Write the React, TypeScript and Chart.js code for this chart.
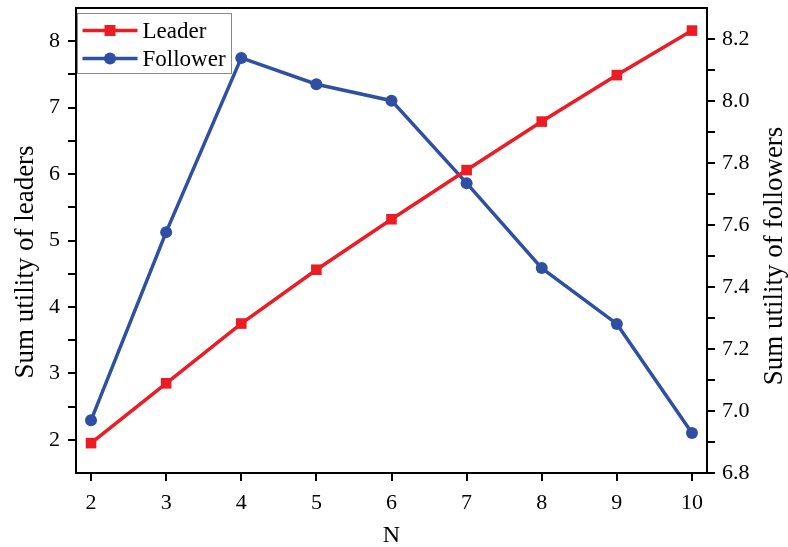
import React, { useEffect, useRef } from "react";
import { Chart, registerables } from "chart.js";

Chart.register(...registerables);

// Number of agents N on the x axis
const nValues = [2, 3, 4, 5, 6, 7, 8, 9, 10];
// Sum utility of leaders (left axis)
const leaderUtility = [1.95, 2.85, 3.75, 4.56, 5.32, 6.06, 6.79, 7.49, 8.16];
// Sum utility of followers (right axis)
const followerUtility = [6.97, 7.577, 8.139, 8.054, 8.001, 7.735, 7.461, 7.281, 6.929];

// Tick labels
const xTicks = [2, 3, 4, 5, 6, 7, 8, 9, 10];
const leftMajorTicks = [2, 3, 4, 5, 6, 7, 8];
const leftMinorTicks = [2.5, 3.5, 4.5, 5.5, 6.5, 7.5];
const rightMajorTicks = [6.8, 7.0, 7.2, 7.4, 7.6, 7.8, 8.0, 8.2];
const rightMinorTicks = [6.9, 7.1, 7.3, 7.5, 7.7, 7.9, 8.1];

// Axis titles
const xTitle = "N";
const leftTitle = "Sum utility of leaders";
const rightTitle = "Sum utility of followers";

const RED = "#ec1c24";
const BLUE = "#2f4fa2";
const FONT = "'Liberation Serif', 'Times New Roman', serif";

const frameTitlesLegend = {
  id: "frameTitlesLegend",
  afterDraw(chart: any) {
    const { ctx, chartArea } = chart;
    ctx.save();
    // top frame line
    ctx.strokeStyle = "#000";
    ctx.lineWidth = 2;
    ctx.beginPath();
    ctx.moveTo(chartArea.left - 1, chartArea.top);
    ctx.lineTo(chartArea.right + 1, chartArea.top);
    ctx.stroke();

    // axis titles
    ctx.fillStyle = "#000";
    ctx.textAlign = "center";
    ctx.textBaseline = "alphabetic";
    ctx.font = `24px ${FONT}`;
    ctx.fillText(xTitle, (chartArea.left + chartArea.right) / 2, 542);

    ctx.font = `27px ${FONT}`;
    ctx.save();
    ctx.translate(33, 262);
    ctx.rotate(-Math.PI / 2);
    ctx.fillText(leftTitle, 0, 0);
    ctx.restore();

    ctx.save();
    ctx.translate(782, 256);
    ctx.rotate(-Math.PI / 2);
    ctx.fillText(rightTitle, 0, 0);
    ctx.restore();

    // legend box
    const bx = chartArea.left + 1.5;
    const by = chartArea.top + 5.5;
    const bw = 154;
    const bh = 60;
    ctx.fillStyle = "#fff";
    ctx.fillRect(bx, by, bw, bh);
    ctx.strokeStyle = "#8a8a8a";
    ctx.lineWidth = 1;
    ctx.strokeRect(bx, by, bw, bh);

    const items = [
      { label: "Leader", color: RED, style: "rect" },
      { label: "Follower", color: BLUE, style: "circle" },
    ];
    items.forEach((it, i) => {
      const y = by + 17 + i * 28;
      const x0 = bx + 5;
      const x1 = bx + 60;
      ctx.strokeStyle = it.color;
      ctx.lineWidth = 3.5;
      ctx.beginPath();
      ctx.moveTo(x0, y);
      ctx.lineTo(x1, y);
      ctx.stroke();
      ctx.fillStyle = it.color;
      const cx = (x0 + x1) / 2;
      if (it.style === "rect") {
        ctx.fillRect(cx - 5.5, y - 5.5, 11, 11);
      } else {
        ctx.beginPath();
        ctx.arc(cx, y, 6, 0, Math.PI * 2);
        ctx.fill();
      }
      ctx.fillStyle = "#000";
      ctx.font = `23px ${FONT}`;
      ctx.textAlign = "left";
      ctx.textBaseline = "middle";
      ctx.fillText(it.label, x1 + 5, y + 1);
    });
    ctx.restore();
  },
};

const noLabelPadding = (s: any) => {
  s.paddingTop = 0;
  s.paddingBottom = 0;
  s.paddingLeft = 0;
  s.paddingRight = 0;
};

export default function App() {
  const canvasRef = useRef<HTMLCanvasElement | null>(null);

  useEffect(() => {
    if (!canvasRef.current) return;
    const tickFont = { family: FONT, size: 22 };
    const grid = {
      drawOnChartArea: false,
      drawTicks: true,
      tickLength: 8,
      color: "#000",
      lineWidth: 2,
    };
    const border = { display: true, color: "#000", width: 2 };

    const chart = new Chart(canvasRef.current, {
      type: "line",
      data: {
        datasets: [
          {
            label: "Leader",
            data: nValues.map((n, i) => ({ x: n, y: leaderUtility[i] })),
            borderColor: RED,
            backgroundColor: RED,
            borderWidth: 3.5,
            pointStyle: "rect",
            pointRadius: 7.5,
            pointBorderWidth: 0,
            yAxisID: "y",
          },
          {
            label: "Follower",
            data: nValues.map((n, i) => ({ x: n, y: followerUtility[i] })),
            borderColor: BLUE,
            backgroundColor: BLUE,
            borderWidth: 3.5,
            pointStyle: "circle",
            pointRadius: 6,
            pointBorderWidth: 0,
            yAxisID: "y1",
          },
        ],
      },
      options: {
        responsive: false,
        animation: false,
        devicePixelRatio: 1,
        layout: { padding: { top: 8, left: 0, right: 0, bottom: 0 } },
        plugins: {
          legend: { display: false },
          tooltip: { enabled: false },
        },
        scales: {
          x: {
            type: "linear",
            min: 1.8,
            max: 10.2,
            afterBuildTicks: (s: any) => {
              s.ticks = xTicks.map((v) => ({ value: v }));
            },
            afterFit: (s: any) => {
              s.height = 74;
              noLabelPadding(s);
            },
            ticks: {
              font: tickFont,
              color: "#000",
              padding: 9,
              maxRotation: 0,
              callback: (v: any) => String(v),
            },
            grid,
            border,
          },
          y: {
            type: "linear",
            position: "left",
            min: 1.5,
            max: 8.5,
            afterBuildTicks: (s: any) => {
              s.ticks = [...leftMajorTicks, ...leftMinorTicks]
                .sort((a, b) => a - b)
                .map((v) => ({ value: v }));
            },
            afterFit: (s: any) => {
              s.width = 76;
              noLabelPadding(s);
            },
            ticks: {
              font: tickFont,
              color: "#000",
              padding: 8,
              callback: (v: any) =>
                leftMajorTicks.includes(v) ? String(v) : "",
            },
            grid,
            border,
          },
          y1: {
            type: "linear",
            position: "right",
            min: 6.8,
            max: 8.3,
            afterBuildTicks: (s: any) => {
              s.ticks = [...rightMajorTicks, ...rightMinorTicks]
                .sort((a, b) => a - b)
                .map((v) => ({ value: v }));
            },
            afterFit: (s: any) => {
              s.width = 81;
              noLabelPadding(s);
            },
            ticks: {
              font: tickFont,
              color: "#000",
              padding: 7,
              callback: (v: any) =>
                rightMajorTicks.some((t) => Math.abs(t - v) < 1e-6)
                  ? Number(v).toFixed(1)
                  : "",
            },
            grid,
            border,
          },
        },
      },
      plugins: [frameTitlesLegend],
    } as any);

    return () => chart.destroy();
  }, []);

  return (
    <div
      style={{
        position: "fixed",
        left: 0,
        top: 0,
        width: 788,
        height: 547,
        background: "#fff",
      }}
    >
      <canvas ref={canvasRef} width={788} height={547} />
    </div>
  );
}
